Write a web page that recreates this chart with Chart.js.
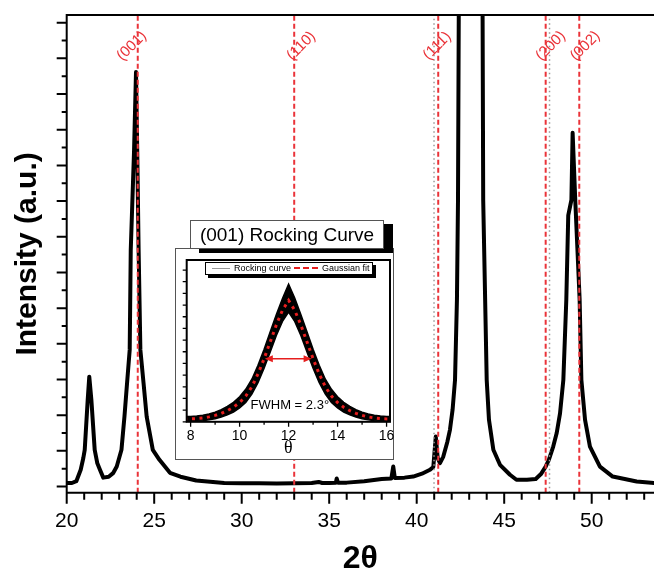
<!DOCTYPE html>
<html>
<head>
<meta charset="utf-8">
<title>XRD pattern with rocking curve inset</title>
<script src="https://cdn.jsdelivr.net/npm/chart.js@4.4.1/dist/chart.umd.min.js"></script>
<style>
  body { margin: 0; background: #fff; }
  #wrap { position: relative; width: 654px; height: 578px; overflow: hidden; }
  #main { position: absolute; left: 0; top: 0; }
  #insetBox { position: absolute; left: 175px; top: 248px; width: 217px; height: 210px; border: 1px solid #555; background: #fff; }
  #inset { position: absolute; left: 176px; top: 249px; }
  #insetTitle { position: absolute; left: 190px; top: 220px; width: 192px; height: 27px; border: 1px solid #555; background: #fff;
    box-shadow: 9px 4px 0 #000; font: 19px 'Liberation Sans', Arial, sans-serif; text-align: center; line-height: 28px; }
  #legend { position: absolute; left: 205px; top: 262px; width: 166px; height: 11px; border: 1px solid #000; background: #fff;
    box-shadow: 3px 3px 0 #000; font: 9px 'Liberation Sans', Arial, sans-serif; line-height: 11px; }
  #legend span { position: absolute; top: 0; }
  #legend .sample { top: 5px; height: 0; }
</style>
</head>
<body>
<div id="wrap">
  <canvas id="main" width="654" height="578"></canvas>
  <div id="insetBox"></div>
  <canvas id="inset" width="232" height="210"></canvas>
  <div id="insetTitle">(001) Rocking Curve</div>
  <div id="legend">
    <span class="sample" style="left:6px;width:18px;border-top:1px solid #999"></span>
    <span style="left:28px">Rocking curve</span>
    <span class="sample" style="left:88px;width:24px;top:4px;border-top:2px dashed rgb(230,30,30)"></span>
    <span style="left:116px">Gaussian fit</span>
  </div>
</div>
<script>
// main XRD scan (2theta in degrees, intensity in arbitrary units)
const twoTheta = [
  20.0, 20.3, 20.55, 20.8, 20.95, 21.03, 21.2, 21.29, 21.41, 21.6, 21.75, 21.9, 22.09, 22.4, 22.65, 22.86,
  23.13, 23.3, 23.45, 23.6, 23.66, 23.85, 23.96, 24.03, 24.11, 24.21, 24.39, 24.57, 24.92, 25.3, 25.9, 26.5,
  27.4, 29.0, 30.0, 31.0, 32.0, 33.0, 34.0, 34.4, 34.6, 35.0, 35.38, 35.43, 35.5, 36.0, 37.0, 38.0,
  38.55, 38.66, 38.75, 39.3, 39.8, 40.3, 40.76, 40.95, 41.09, 41.2, 41.33, 41.52, 41.75, 41.9, 42.05, 42.19,
  42.3, 42.36, 42.46, 43.1, 43.72, 43.8, 44.0, 44.13, 44.38, 44.76, 45.33, 45.7, 46.3, 46.8, 47.1, 47.37,
  47.55, 47.8, 48.0, 48.19, 48.38, 48.55, 48.66, 48.84, 48.91, 49.06, 49.31, 49.41, 49.62, 49.9, 50.47, 51.2,
  52.57, 53.6
];
const intensity = [
  0.2, 0.2, 0.3, 0.94, 1.6, 2.06, 4.86, 6.16, 4.86, 2.06, 1.3, 0.94, 0.5, 0.55, 0.75, 1.12,
  2.06, 3.92, 5.81, 7.66, 13.26, 18.86, 23.23, 18.86, 13.26, 7.66, 5.81, 3.92, 2.06, 1.5, 0.77, 0.55,
  0.34, 0.2, 0.18, 0.18, 0.17, 0.18, 0.2, 0.26, 0.2, 0.2, 0.22, 0.45, 0.22, 0.22, 0.3, 0.42,
  0.45, 1.12, 0.48, 0.5, 0.56, 0.72, 0.94, 1.1, 2.8, 1.6, 1.31, 1.68, 2.5, 3.18, 4.3, 5.98,
  10.5, 16.06, 40, 80, 40, 16.06, 5.98, 3.74, 2.06, 1.22, 0.66, 0.38, 0.38, 0.42, 0.7, 1.12,
  1.5, 2.24, 3.0, 4.1, 5.98, 10.5, 15.2, 16.06, 19.83, 16.06, 10.5, 5.98, 3.74, 2.24, 1.12, 0.56,
  0.28, 0.19
];
const peakPositions = [24.06, 33.0, 41.23, 47.37, 49.29];
const peakNames = ['(001)', '(110)', '(111)', '(200)', '(002)'];
const substratePositions = [40.99, 47.59];
const xTickValues = [20, 25, 30, 35, 40, 45, 50];

// inset: rocking curve (theta in degrees)
const rockTheta = [7.75, 8.0, 8.25, 8.5, 8.75, 9.0, 9.25, 9.5, 9.75, 10.0, 10.25, 10.5, 10.75, 11.0, 11.25, 11.5, 11.75,
  12.0, 12.25, 12.5, 12.75, 13.0, 13.25, 13.5, 13.75, 14.0, 14.25, 14.5, 14.75, 15.0, 15.25, 15.5, 15.75, 16.0, 16.25];
const rockUpper = [0.45, 0.46, 0.49, 0.56, 0.67, 0.83, 1.04, 1.32, 1.67, 2.15, 2.78, 3.65, 4.85, 6.22, 7.72, 9.2, 10.55,
  11.8, 10.6, 9.2, 7.72, 6.22, 4.85, 3.65, 2.78, 2.15, 1.67, 1.32, 1.04, 0.83, 0.67, 0.56, 0.49, 0.46, 0.45];
const rockLower = [0.03, 0.04, 0.07, 0.1, 0.17, 0.27, 0.41, 0.59, 0.84, 1.18, 1.65, 2.38, 3.35, 4.58, 5.98, 7.4, 8.6,
  9.4, 8.6, 7.4, 5.98, 4.58, 3.35, 2.38, 1.65, 1.18, 0.84, 0.59, 0.41, 0.27, 0.17, 0.1, 0.07, 0.04, 0.03];
const gaussFit = [0.24, 0.25, 0.28, 0.33, 0.42, 0.55, 0.72, 0.95, 1.25, 1.65, 2.2, 3.0, 4.1, 5.4, 6.85, 8.3, 9.55,
  10.4, 9.55, 8.3, 6.85, 5.4, 4.1, 3.0, 2.2, 1.65, 1.25, 0.95, 0.72, 0.55, 0.42, 0.33, 0.28, 0.25, 0.24];
const insetTickValues = [8, 10, 12, 14, 16];
const fwhmFrom = 11.03, fwhmTo = 12.94, fwhmLevel = 5.4;
const fwhmText = 'FWHM = 2.3°';

Chart.defaults.font.family = "'Liberation Sans', Arial, sans-serif";
Chart.defaults.color = '#000';

const RED = 'rgb(234, 51, 57)';
const Y_MIN = -0.35, Y_MAX = 26.43;

const pts = (xs, ys) => xs.map((v, i) => ({ x: v, y: ys[i] }));

// frame + major/minor tick marks of the main plot
const mainFrame = {
  id: 'mainFrame',
  afterDraw(chart) {
    const { ctx, chartArea: a, scales: { x, y } } = chart;
    ctx.save();
    ctx.strokeStyle = '#000';
    ctx.lineWidth = 2;
    ctx.beginPath();
    ctx.moveTo(a.left, a.top); ctx.lineTo(a.right, a.top);
    ctx.moveTo(a.left, a.top - 1); ctx.lineTo(a.left, a.bottom + 1);
    ctx.moveTo(a.left, a.bottom); ctx.lineTo(a.right, a.bottom);
    for (let v = 0; v <= 26; v++) {
      const py = y.getPixelForValue(v);
      ctx.moveTo(a.left, py);
      ctx.lineTo(a.left - (v % 2 === 0 ? 10 : 5), py);
    }
    for (let v = 20; v <= x.max; v++) {
      const px = x.getPixelForValue(v);
      ctx.moveTo(px, a.bottom);
      ctx.lineTo(px, a.bottom + (v % 5 === 0 ? 11 : 7));
    }
    ctx.stroke();
    ctx.restore();
  }
};

// rotated (hkl) names next to the reference lines
const labelShift = [-6, 7, -1, 5, 6];
const peakLabels = {
  id: 'peakLabels',
  afterDatasetsDraw(chart) {
    const { ctx, chartArea: a, scales: { x } } = chart;
    ctx.save();
    ctx.font = "15px 'Liberation Sans', Arial, sans-serif";
    ctx.fillStyle = RED;
    ctx.textAlign = 'center';
    ctx.textBaseline = 'middle';
    peakPositions.forEach((p, i) => {
      ctx.save();
      ctx.translate(x.getPixelForValue(p) + labelShift[i], a.top + 31);
      ctx.rotate(-Math.PI / 4);
      ctx.fillText(peakNames[i], 0, 0);
      ctx.restore();
    });
    ctx.restore();
  }
};

const refSets = peakPositions.map(p => ({
  data: [{ x: p, y: Y_MIN }, { x: p, y: Y_MAX }],
  borderColor: RED, borderWidth: 2, borderDash: [5, 3], clip: 0
}));
const subSets = substratePositions.map(p => ({
  data: [{ x: p, y: Y_MIN }, { x: p, y: Y_MAX }],
  borderColor: '#999', borderWidth: 1.5, borderDash: [1.5, 3], clip: 0
}));

new Chart(document.getElementById('main'), {
  type: 'line',
  data: {
    datasets: [
      ...refSets,
      ...subSets,
      { data: pts(twoTheta, intensity), borderColor: '#000', borderWidth: 4, borderJoinStyle: 'round', clip: 0 }
    ]
  },
  options: {
    responsive: false,
    animation: false,
    layout: { padding: { top: 15, right: 0, bottom: 0, left: 0 } },
    elements: { point: { radius: 0 }, line: { tension: 0 } },
    plugins: { legend: { display: false }, tooltip: { enabled: false } },
    scales: {
      x: {
        type: 'linear', min: 20, max: 53.56,
        grid: { display: false, drawTicks: false },
        border: { display: false },
        afterBuildTicks: s => { s.ticks = xTickValues.map(v => ({ value: v })); },
        ticks: { padding: 16, font: { size: 21 } },
        title: { display: true, text: '2θ', font: { size: 32, weight: 'bold' }, padding: { top: -10.4, bottom: 0 } }
      },
      y: {
        min: Y_MIN, max: Y_MAX,
        grid: { display: false, drawTicks: false },
        border: { display: false },
        ticks: { display: false },
        title: { display: true, text: 'Intensity (a.u.)', font: { size: 30, weight: 'bold' }, padding: { top: 9.5, bottom: 21.2 } }
      }
    }
  },
  plugins: [mainFrame, peakLabels]
});

// inset frame, ticks, FWHM arrow and text
const insetDecor = {
  id: 'insetDecor',
  afterDraw(chart) {
    const { ctx, chartArea: a, scales: { x, y } } = chart;
    ctx.save();
    ctx.strokeStyle = '#000';
    ctx.lineWidth = 2;
    ctx.strokeRect(a.left, a.top, a.right - a.left, a.bottom - a.top);
    ctx.lineWidth = 1.3;
    ctx.beginPath();
    for (let v = 0; v <= 13; v++) {
      const py = y.getPixelForValue(v);
      ctx.moveTo(a.left, py); ctx.lineTo(a.left - 4, py);
    }
    for (let v = 8; v <= 16; v++) {
      const px = x.getPixelForValue(v);
      ctx.moveTo(px, a.bottom); ctx.lineTo(px, a.bottom + (v % 2 === 0 ? 5 : 3));
    }
    ctx.stroke();

    // double headed arrow
    const x1 = x.getPixelForValue(fwhmFrom), x2 = x.getPixelForValue(fwhmTo), yy = y.getPixelForValue(fwhmLevel);
    ctx.strokeStyle = 'rgb(230,30,30)';
    ctx.fillStyle = 'rgb(230,30,30)';
    ctx.lineWidth = 1.6;
    ctx.beginPath();
    ctx.moveTo(x1 + 4, yy); ctx.lineTo(x2 - 4, yy);
    ctx.stroke();
    ctx.beginPath();
    ctx.moveTo(x1, yy); ctx.lineTo(x1 + 8, yy - 3.5); ctx.lineTo(x1 + 8, yy + 3.5); ctx.closePath();
    ctx.moveTo(x2, yy); ctx.lineTo(x2 - 8, yy - 3.5); ctx.lineTo(x2 - 8, yy + 3.5); ctx.closePath();
    ctx.fill();

    ctx.fillStyle = '#000';
    ctx.font = "13px 'Liberation Sans', Arial, sans-serif";
    ctx.textAlign = 'center';
    ctx.textBaseline = 'middle';
    ctx.fillText(fwhmText, x.getPixelForValue(12.05), y.getPixelForValue(1.37));
    ctx.restore();
  }
};

new Chart(document.getElementById('inset'), {
  type: 'line',
  data: {
    datasets: [
      { data: pts(rockTheta, gaussFit), borderColor: 'rgb(230,30,30)', borderWidth: 3, borderDash: [3, 4.5], clip: 0 },
      { data: pts(rockTheta, rockUpper), borderColor: '#000', borderWidth: 1.5, backgroundColor: '#000', fill: '+1', clip: 0 },
      { data: pts(rockTheta, rockLower), borderColor: '#000', borderWidth: 1.5, clip: 0 }
    ]
  },
  options: {
    responsive: false,
    animation: false,
    layout: { padding: { left: 10.7, top: 11, right: 18, bottom: 0 } },
    elements: { point: { radius: 0 }, line: { tension: 0 } },
    plugins: { legend: { display: false }, tooltip: { enabled: false } },
    scales: {
      x: {
        type: 'linear', min: 7.84, max: 16.14,
        grid: { display: false, drawTicks: false },
        border: { display: false },
        afterBuildTicks: s => { s.ticks = insetTickValues.map(v => ({ value: v })); },
        ticks: { padding: 5.6, font: { size: 14 } },
        title: { display: true, text: 'θ', font: { family: "'Liberation Serif', serif", size: 18 }, padding: { top: -12.4, bottom: 0 } }
      },
      y: { display: false, min: 0, max: 13.86 }
    }
  },
  plugins: [insetDecor]
});
</script>
</body>
</html>
